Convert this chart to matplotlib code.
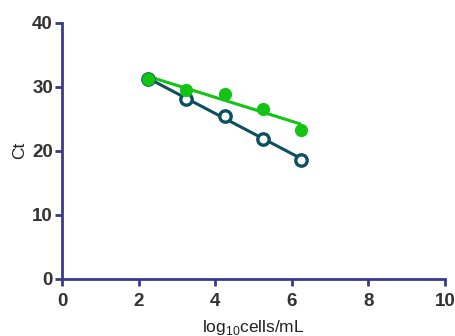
import numpy as np
import matplotlib
matplotlib.use("Agg")
import matplotlib.pyplot as plt

plt.rcParams['font.family'] = ['Liberation Sans', 'DejaVu Sans']
plt.rcParams['mathtext.fontset'] = 'custom'
plt.rcParams['mathtext.rm'] = 'Liberation Sans'

log_cells = [2.25, 3.24, 4.26, 5.25, 6.24]
ct_teal = [31.2, 28.1, 25.5, 21.9, 18.6]
ct_green = [31.2, 29.5, 28.9, 26.6, 23.3]

x_ticks = [0, 2, 4, 6, 8, 10]
y_ticks = [0, 10, 20, 30, 40]

axis_color = '#3a3a8c'
teal = '#0c4f5e'
green = '#14c414'

fig = plt.figure(figsize=(4.56, 3.36), dpi=100)
ax = fig.add_axes([0.136, 0.170, 0.840, 0.762])

x = np.array(log_cells)
for y, color, filled in [(ct_teal, teal, False), (ct_green, green, True)]:
    y = np.array(y)
    slope, intercept = np.polyfit(x, y, 1)
    xf = np.array([x.min(), x.max()])
    ax.plot(xf, slope * xf + intercept, color=color, lw=2.2, solid_capstyle='butt', zorder=2)
    if filled:
        ax.plot(x, y, 'o', ms=8.5, color=color, mec=color, zorder=4)
    else:
        ax.plot(x, y, 'o', ms=8.2, mfc='white', mec=color, mew=2.4, zorder=3)

ax.set_xlim(0, 10)
ax.set_ylim(0, 40)
ax.set_xticks(x_ticks)
ax.set_yticks(y_ticks)
for s in ['top', 'right']:
    ax.spines[s].set_visible(False)
for s in ['left', 'bottom']:
    ax.spines[s].set_color(axis_color)
    ax.spines[s].set_linewidth(2)
ax.tick_params(colors=axis_color, width=2, length=5, labelcolor='#333333', labelsize=13.5)
ax.tick_params(axis='x', pad=5)
ax.tick_params(axis='y', pad=1.5)
for lab in ax.get_xticklabels() + ax.get_yticklabels():
    lab.set_fontweight('bold')

ax.set_xlabel(r'log$_{\mathrm{10}}$cells/mL', fontsize=12.5, color='#222222', labelpad=6)
ax.set_ylabel('Ct', fontsize=12.5, color='#222222', labelpad=4)

fig.savefig('out.png', dpi=100)
